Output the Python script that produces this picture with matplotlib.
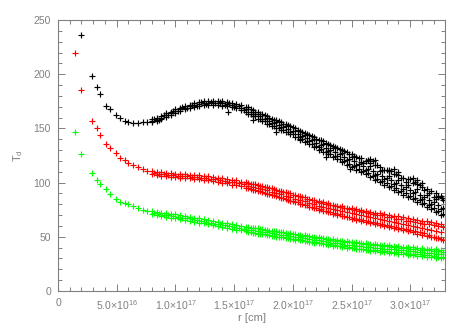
import numpy as np
import matplotlib
matplotlib.use('Agg')
import matplotlib.pyplot as plt
from matplotlib.ticker import MultipleLocator, FuncFormatter

plt.rcParams['font.family'] = ['Liberation Sans', 'DejaVu Sans']
plt.rcParams['mathtext.default'] = 'regular'

# raio em unidades de 1e17 cm
UNIT = 1e17

# parte interna (pontos esparsos)
r_in_black = [0.20, 0.29, 0.33, 0.36, 0.41, 0.44, 0.49, 0.53, 0.57, 0.60, 0.64, 0.68, 0.72, 0.76]
T_in_black = [236, 198, 188.5, 181.5, 171, 167.5, 162, 159.5, 157, 156, 155, 155, 155.5, 156]

r_in = [0.145, 0.20, 0.29, 0.33, 0.36, 0.41, 0.44, 0.49, 0.53, 0.57, 0.60, 0.64, 0.68, 0.72, 0.76]
T_in_red = [219.8, 185.4, 157, 150.6, 144, 135.6, 132.2, 127.6, 123, 120.5, 118.4, 116, 114.7, 112.5, 110.5]
T_in_green = [147, 126, 108.6, 102.4, 98.4, 93.8, 89.5, 84.6, 82.4, 81, 80.3, 78, 77, 75, 73.5]

# parte externa (pontos densos), grade 1
r_out = [0.80, 0.84, 0.88, 0.92, 0.96, 1.00, 1.04, 1.08, 1.12, 1.16, 1.20, 1.24, 1.28, 1.32, 1.36, 1.40,
         1.44, 1.48, 1.52, 1.56, 1.60, 1.64, 1.68, 1.72, 1.76, 1.80, 1.84, 1.88, 1.92, 1.96, 2.00, 2.04,
         2.08, 2.12, 2.16, 2.20, 2.24, 2.28, 2.32, 2.36, 2.40, 2.44, 2.48, 2.52, 2.56, 2.60, 2.64, 2.68,
         2.72, 2.76, 2.80, 2.84, 2.88, 2.92, 2.96, 3.00, 3.04, 3.08, 3.12, 3.16, 3.20, 3.24, 3.28]

T_black_mid = [157, 158, 160, 162, 164, 166, 167.5, 169, 170.5, 171.5, 172.5, 173, 173.5, 173.5, 173.5, 173,
               172.5, 171.5, 170.5, 169, 167.5, 165.5, 163, 161, 159, 157, 155, 153, 151.5, 149.5, 147.5, 145,
               143, 141, 139, 136.5, 134.5, 132, 130, 128, 126, 124, 121.5, 119.5, 117, 115, 113, 110.5,
               108, 106, 104, 102, 100, 97.5, 95.5, 93, 91, 89, 86.5, 84, 82, 79.5, 77]
T_black_hi = [159, 160, 161.5, 164, 165.5, 168, 169, 171, 172, 173.5, 174, 175, 175, 175.5, 175, 175,
              174.5, 173.5, 172.5, 171.5, 169.5, 168, 165.5, 163.5, 162, 160, 158, 156.5, 154.5, 153, 151, 148.5,
              147, 145, 143, 140.5, 139, 136.5, 134.5, 133, 131, 129.5, 126.5, 125, 123, 118, 121, 120,
              116, 112, 112, 111, 108, 104, 101, 103, 101, 98, 93, 90, 87, 87, 84]
T_black_lo = [156, 156.5, 158.5, 160.5, 162.5, 164.5, 166, 167.5, 169, 170, 171, 171.5, 172, 171.5, 172, 171,
              170.5, 169.5, 168.5, 167, 165.5, 163, 161, 158.5, 156.5, 154.5, 152.5, 150.5, 148.5, 146.5, 144.5, 142,
              140, 138, 135.5, 133.5, 131, 128.5, 126.5, 124.5, 122, 120, 117.5, 115.5, 113, 111, 108.5, 106,
              103.5, 101.5, 99.5, 97, 95, 92.5, 90.5, 88, 86, 84, 81.5, 79, 77, 74, 71]

T_red_hi = [110.5, 110, 109.8, 109, 108.8, 108.2, 108, 107.6, 107.3, 106.8, 106.6, 106, 105.7, 105.4, 104.5, 104,
            103.5, 102.6, 102, 101, 100.3, 99, 98.4, 97, 96.2, 94.6, 93.8, 92.5, 91.4, 90, 89, 87.6,
            86.5, 85, 84, 82.5, 81.6, 80.5, 79.5, 78.2, 77.4, 76.5, 75.2, 74.6, 73.5, 73, 72, 71.5,
            70.5, 69.8, 68.6, 68, 66.8, 66.4, 65, 64.6, 63.5, 63, 61.4, 61.5, 61, 60, 59]
T_red_lo = [107.5, 107, 106.4, 106, 105.4, 105, 104.6, 104.2, 103.8, 103.4, 103, 102.4, 102, 101.2, 100.8, 99.8,
            99.2, 98.2, 97.4, 96.5, 95.4, 94.5, 93.2, 92, 90.8, 89.6, 88.2, 87, 85.8, 84.4, 83.2, 81.8,
            80.4, 79, 77.6, 76.4, 75.2, 74, 72.8, 71.8, 70.6, 69.6, 68.6, 67.6, 66.8, 65.8, 64.8, 64,
            63, 62, 61.2, 60.2, 59.4, 58.4, 57.6, 56.6, 55.8, 54.6, 53.8, 51.5, 50.2, 49, 47.5]

T_green_hi = [73.5, 73, 72.4, 71.8, 71.2, 70.6, 70, 69.2, 68.6, 67.8, 67.2, 66.3, 65.6, 64.6, 64, 63,
              62.4, 61.4, 60.8, 59.8, 59.2, 58.4, 57.8, 57, 56.6, 55.6, 55.2, 54.4, 54, 53, 52.6, 51.8,
              51.2, 50.4, 50, 49, 48.6, 47.8, 47.4, 46.4, 46.2, 45.2, 45, 44.2, 44, 43.2, 43, 42.2,
              42, 41.4, 41.2, 40.6, 40.4, 39.8, 39.6, 39, 38.8, 38.2, 38, 37.4, 37.2, 36.8, 36.4]
T_green_lo = [70.6, 69.8, 69, 68.4, 67.6, 67, 66.2, 65.6, 64.6, 64, 63, 62.4, 61.4, 60.8, 59.8, 59.2,
              58.2, 57.6, 56.6, 56, 55, 54.4, 53.6, 53, 52.2, 51.6, 50.8, 50.2, 49.4, 49, 48.2, 47.6,
              46.8, 46.4, 45.6, 45, 44.2, 43.8, 43, 42.6, 41.6, 41.2, 40.4, 40, 39.2, 39, 38.2, 38,
              37.4, 37.2, 36.6, 36.4, 35.8, 35.6, 35, 34.6, 34, 33.8, 33, 32.8, 32, 31.6, 31]

# grade 2 (intercalada)
r_out2 = [0.82, 0.86, 0.90, 0.94, 0.98,
          1.02, 1.06, 1.10, 1.14, 1.18, 1.22, 1.26, 1.30, 1.34, 1.38, 1.42, 1.46, 1.50,
          1.54, 1.58, 1.62, 1.66, 1.70, 1.74, 1.78, 1.82, 1.86, 1.90, 1.94, 1.98,
          2.02, 2.06, 2.10, 2.14, 2.18, 2.22, 2.26, 2.30, 2.34, 2.38, 2.42, 2.46, 2.50,
          2.54, 2.58, 2.62, 2.66, 2.70, 2.74, 2.78, 2.82, 2.86, 2.90, 2.94, 2.98,
          3.02, 3.06, 3.10, 3.14, 3.18, 3.22, 3.26]
T_black_2 = [158.5, 158, 162, 162, 166,
             166, 169.5, 169, 172, 171, 174, 172.5, 174.5, 173, 174.5, 172, 173, 170,
             171, 167, 167.5, 163.5, 163.5, 159, 159.5, 155, 155.5, 151, 152, 147,
             148, 142.5, 144, 138, 140, 133, 135.5, 129, 131.5, 125, 127.5, 120.5, 123.5,
             116, 119, 112, 115, 107, 111, 103, 106, 99, 102, 94, 98,
             90, 94, 85, 89, 80, 85, 76]
T_red_2 = [108.7, 108.2, 107.8, 107.2, 106.9,
           106.5, 106.2, 105.8, 105.4, 105, 104.5, 104, 103.6, 103, 102.4, 101.6, 100.9, 100.1,
           99.2, 98.3, 97.3, 96.2, 95.1, 94, 92.8, 91.6, 90.4, 89.2, 88, 86.6,
           85.3, 84, 82.7, 81.4, 80, 78.8, 77.8, 76.6, 75.6, 74.5, 73.5, 72.5, 71.6,
           70.6, 69.8, 68.8, 68, 67, 66.2, 65.2, 64.4, 63.4, 62.6, 61.8, 60.8,
           60, 59, 58, 57, 56, 55, 54]
T_green_2 = [71.6, 71, 70.3, 69.7, 69,
             68.3, 67.6, 66.9, 66.1, 65.4, 64.6, 63.8, 63, 62.2, 61.4, 60.6, 59.8, 59,
             58.2, 57.4, 56.6, 56, 55.3, 54.6, 54, 53.3, 52.6, 52, 51.4, 50.7,
             50, 49.4, 48.7, 48, 47.4, 46.7, 46, 45.4, 44.7, 44.1, 43.5, 42.9, 42.4,
             41.8, 41.4, 40.8, 40.4, 39.9, 39.5, 39.1, 38.7, 38.3, 37.9, 37.5, 37,
             36.6, 36.2, 35.7, 35.3, 34.9, 34.4, 34]

# grade 3 (faixa externa, bordas da nuvem)
r_out3 = [1.62, 1.66, 1.70, 1.74, 1.78, 1.82, 1.86, 1.90, 1.94, 1.98,
          2.02, 2.06, 2.10, 2.14, 2.18, 2.22, 2.26, 2.30, 2.34, 2.38, 2.42, 2.46, 2.50,
          2.54, 2.58, 2.62, 2.66, 2.70, 2.74, 2.78, 2.82, 2.86, 2.90, 2.94, 2.98,
          3.02, 3.06, 3.10, 3.14, 3.18, 3.22, 3.26]
T_black_up3 = [169.5, 167, 165.5, 163, 161.5, 159, 157.5, 155.5, 154, 152,
               150, 147.5, 146, 144, 142, 139.5, 138, 135.5, 134, 131.5, 130.5, 128, 126.5,
               124, 122.5, 119.5, 118, 116, 114, 112, 110.5, 108, 107, 104, 103,
               100, 99, 96, 94.5, 92, 90, 88]
T_black_lo3 = [163.5, 161.5, 159, 157, 154.5, 152.5, 150.5, 148.5, 146.5, 144.5,
               142, 140, 137.5, 135.5, 133, 130.5, 128.5, 126, 123.5, 121.5, 119, 116.5, 114.5,
               112, 109.5, 107.5, 105, 102.5, 100.5, 98, 96, 93.5, 91.5, 89, 87,
               84.5, 82.5, 80, 77.5, 75.5, 72.5, 70]
T_red_up3 = [99.8, 98.8, 97.8, 96.8, 95.6, 94.6, 93.4, 92.4, 91.2, 90,
             88.8, 87.6, 86.4, 85.2, 84, 82.8, 81.8, 80.8, 79.8, 78.8, 78, 77, 76.2,
             75.4, 74.6, 73.8, 73, 72.4, 71.6, 70.8, 70.2, 69.4, 68.8, 68, 67.2,
             66.6, 65.8, 65, 64.4, 63.4, 62.8, 62]
T_red_lo3 = [94.6, 93.4, 92.2, 91, 89.8, 88.4, 87.2, 85.8, 84.6, 83.2,
             81.8, 80.4, 79.2, 77.8, 76.4, 75, 73.8, 72.6, 71.4, 70.2, 69, 68, 66.8,
             65.8, 64.8, 63.8, 62.8, 61.8, 60.8, 59.8, 58.8, 58, 57, 56, 55,
             54, 53, 52, 51, 50, 48.8, 47.6]
T_green_up3 = [59, 58.4, 57.7, 57, 56.4, 55.8, 55.1, 54.5, 53.9, 53.2,
               52.6, 52, 51.3, 50.7, 50.1, 49.4, 48.8, 48.2, 47.6, 47, 46.4, 45.9, 45.4,
               44.9, 44.5, 44, 43.6, 43.1, 42.8, 42.4, 42, 41.7, 41.3, 41, 40.6,
               40.2, 39.9, 39.5, 39.2, 38.8, 38.5, 38.2]
T_green_lo3 = [54.2, 53.6, 52.9, 52.2, 51.6, 50.9, 50.2, 49.5, 48.9, 48.2,
               47.5, 46.8, 46.1, 45.4, 44.7, 44, 43.3, 42.6, 41.9, 41.2, 40.6, 40, 39.4,
               38.8, 38.3, 37.7, 37.2, 36.7, 36.2, 35.8, 35.3, 34.9, 34.4, 34, 33.5,
               33.1, 32.6, 32.2, 31.7, 31.3, 30.8, 30.3]

# pontos fora da faixa (preto)
r_black_extra = [1.45, 1.66, 1.86, 2.06, 2.28, 2.49, 2.62, 2.66, 2.70, 2.82, 2.86, 2.90, 3.02, 3.06, 3.10, 3.24, 3.27]
T_black_extra = [165.4, 158, 147, 139, 124, 113, 120, 122, 121, 112, 113, 110, 104, 102, 100, 88, 86]

# ponto na origem (verde)
r_origin = [0.0]
T_origin = [0.0]


def fmt_r(v, pos):
    if abs(v) < 1:
        return '0'
    if v < 0:
        return ''
    e = int(np.floor(np.log10(v) + 1e-9))
    m = v / 10 ** e
    return '%.1f×10$^{%d}$' % (m, e)


fig = plt.figure(figsize=(4.63, 3.31), dpi=100)
ax = fig.add_axes([0.1253, 0.1208, 0.8358, 0.8188])

mk = dict(marker='+', linestyle='none', markersize=5, markeredgewidth=0.85)

x = np.array(r_out) * UNIT
x2 = np.array(r_out2) * UNIT
x3 = np.array(r_out3) * UNIT
ax.plot(np.array(r_in_black) * UNIT, T_in_black, color='black', **mk)
for T in (T_black_mid, T_black_hi, T_black_lo):
    ax.plot(x, T, color='black', **mk)
ax.plot(x2, T_black_2, color='black', **mk)
for T in (T_black_up3, T_black_lo3):
    ax.plot(x3, T, color='black', **mk)
ax.plot(np.array(r_black_extra) * UNIT, T_black_extra, color='black', **mk)

ax.plot(np.array(r_in) * UNIT, T_in_red, color='#ff0000', **mk)
for T in (T_red_hi, T_red_lo):
    ax.plot(x, T, color='#ff0000', **mk)
ax.plot(x2, T_red_2, color='#ff0000', **mk)
for T in (T_red_up3, T_red_lo3):
    ax.plot(x3, T, color='#ff0000', **mk)

ax.plot(np.array(r_in) * UNIT, T_in_green, color='#00ff00', **mk)
for T in (T_green_hi, T_green_lo):
    ax.plot(x, T, color='#00ff00', **mk)
ax.plot(x2, T_green_2, color='#00ff00', **mk)
for T in (T_green_up3, T_green_lo3):
    ax.plot(x3, T, color='#00ff00', **mk)
ax.plot(np.array(r_origin) * UNIT, T_origin, color='#00ff00', **mk)

ax.set_xlim(0, 3.296e17)
ax.set_ylim(0, 250)
ax.xaxis.set_major_locator(MultipleLocator(0.5e17))
ax.xaxis.set_minor_locator(MultipleLocator(0.1e17))
ax.xaxis.set_major_formatter(FuncFormatter(fmt_r))
ax.yaxis.set_major_locator(MultipleLocator(50))
ax.yaxis.set_minor_locator(MultipleLocator(10))

gray = '#808080'
txt = '#808080'
for s in ax.spines.values():
    s.set_color(gray)
    s.set_linewidth(0.8)
ax.tick_params(which='both', direction='in', top=True, right=True, color=gray,
               labelcolor=txt, labelsize=7.5, width=0.7)
ax.tick_params(which='major', length=5, pad=5)
ax.tick_params(which='minor', length=2.8)

ax.set_xlabel('r [cm]', color=txt, fontsize=8, labelpad=1)
ax.set_ylabel('T$_d$', color=txt, fontsize=8, labelpad=6)

fig.savefig('out.png', dpi=100)
